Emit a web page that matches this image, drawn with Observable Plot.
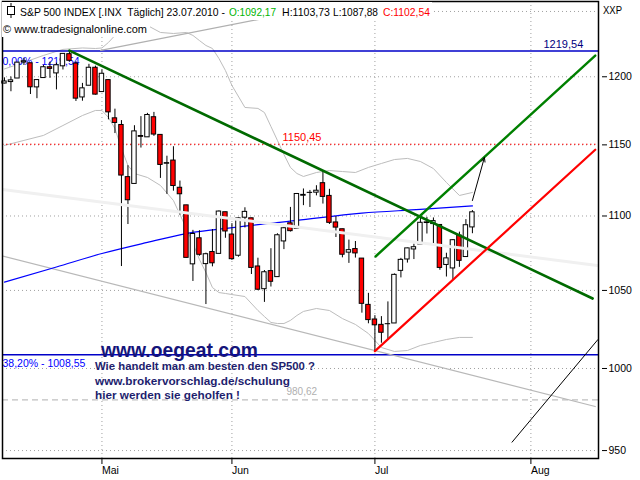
<!DOCTYPE html>
<html><head><meta charset="utf-8">
<script src="https://cdn.jsdelivr.net/npm/d3@7"></script>
<script src="https://cdn.jsdelivr.net/npm/@observablehq/plot@0.6"></script>
<style>body{margin:0;background:#fff}svg{display:block}</style>
</head><body><div id="chart"></div>
<script>
// Daily candles 12.04.2010 - 23.07.2010 (bar index = position)
const opens  = [1194.94,1196.04,1198.69,1210.77,1210.17,1192.06,1199.04,1207.16,1202.52,1207.87,1217.07,1209.92,1184.59,1193.30,1206.77,1188.58,1197.50,1169.24,1164.38,1127.04,1122.27,1156.39,1155.43,1170.04,1157.19,1136.52,1138.78,1119.57,1107.34,1067.26,1084.78,1067.42,1075.51,1074.27,1102.59,1087.30,1073.01,1098.82,1098.43,1065.84,1050.81,1062.75,1058.77,1082.65,1095.00,1091.21,1114.02,1115.98,1116.16,1122.79,1113.90,1095.57,1090.93,1075.10,1077.50,1071.10,1040.56,1031.10,1027.65,1028.09,1028.54,1062.92,1070.50,1077.23,1080.65,1095.61,1094.46,1093.85,1066.85,1064.53,1086.67,1072.14,1092.17];
const highs  = [1199.20,1199.82,1210.65,1213.92,1210.17,1197.87,1208.58,1210.99,1210.27,1217.28,1219.80,1211.38,1195.05,1209.36,1207.99,1205.13,1197.50,1175.95,1167.58,1135.13,1163.85,1170.48,1172.87,1173.57,1157.19,1141.88,1148.66,1124.27,1107.34,1090.16,1089.95,1074.75,1090.75,1103.52,1102.59,1094.77,1098.56,1105.67,1098.43,1071.36,1063.15,1077.74,1087.85,1092.25,1105.91,1115.59,1118.74,1117.72,1121.01,1131.23,1118.50,1099.64,1090.93,1083.56,1082.60,1071.10,1048.08,1033.58,1032.95,1042.50,1060.89,1071.25,1078.16,1080.78,1099.46,1099.08,1098.66,1093.85,1074.70,1083.94,1088.96,1097.50,1103.73];
const lows   = [1194.71,1188.82,1198.69,1208.50,1186.77,1183.68,1199.04,1198.85,1190.19,1205.10,1211.07,1181.62,1181.81,1193.30,1186.32,1188.58,1168.12,1158.15,1065.79,1094.15,1122.27,1147.71,1155.43,1156.14,1126.14,1114.96,1117.20,1100.66,1071.58,1055.90,1072.70,1040.78,1065.59,1074.27,1084.78,1069.89,1072.03,1091.81,1060.50,1049.86,1042.17,1052.25,1058.77,1077.12,1089.03,1091.21,1107.13,1105.87,1113.93,1108.24,1094.18,1085.31,1071.60,1067.89,1071.45,1035.18,1028.33,1010.91,1015.93,1018.35,1028.54,1058.24,1068.10,1070.45,1080.65,1087.68,1080.53,1063.32,1058.83,1056.88,1065.25,1072.14,1087.88];
const closes = [1196.48,1197.30,1210.65,1211.67,1192.13,1197.52,1207.17,1205.94,1208.67,1217.28,1212.05,1183.71,1191.36,1206.78,1186.69,1202.26,1173.60,1165.87,1128.15,1110.88,1159.73,1155.79,1171.67,1157.44,1135.68,1136.94,1120.80,1115.05,1071.59,1087.69,1073.65,1074.03,1067.95,1103.06,1089.41,1070.71,1098.38,1102.83,1064.88,1050.47,1062.00,1055.69,1086.84,1091.60,1089.63,1115.23,1114.61,1116.04,1117.51,1113.20,1095.31,1092.04,1073.69,1076.76,1074.57,1041.24,1030.71,1027.37,1022.58,1028.06,1060.27,1070.25,1077.96,1078.75,1095.34,1095.17,1096.48,1064.88,1071.25,1083.48,1069.59,1093.67,1102.54];

const monthIdx    = [15, 35, 57, 81];
const monthLabels = ["Mai", "Jun", "Jul", "Aug"];
const yTicks = [950, 1000, 1050, 1100, 1150, 1200];
const gridY  = [950, 1000, 1050, 1100, 1150, 1200, 1250];

// envelope band
const bandIdx   = [0,3,6,9,12,14,15,16,17,18,19,20,22,24,26,28,29,30,31,32,33,34,35,37,39,40,41,42,43,44,45,46,48,50,52,54,56,58,60,62,64,66,68,70,72];
const bandUpper = [1205.9,1210.8,1216.1,1220.7,1221.8,1221.4,1221.8,1226.0,1231.4,1238.3,1242.2,1243.0,1239.1,1233.7,1232.9,1233.7,1231.4,1227.5,1223.7,1221.4,1213.8,1204.7,1193.5,1177.2,1176.5,1173.5,1163.3,1153.2,1143.1,1133.9,1129.6,1127.5,1130.3,1131.7,1131.0,1130.3,1133.9,1136.7,1139.5,1140.3,1138.1,1133.1,1123.3,1114.2,1116.3];
const bandLower = [1149.6,1153.2,1156.8,1164.0,1171.3,1175.0,1175.0,1169.9,1161.8,1147.4,1135.3,1129.6,1126.8,1121.2,1110.7,1091.4,1081.3,1070.5,1061.8,1051.9,1048.6,1048.0,1047.3,1046.0,1036.9,1033.0,1029.2,1028.5,1028.5,1030.5,1033.7,1036.3,1038.2,1036.9,1031.7,1027.9,1022.1,1013.2,1010.7,1011.3,1014.5,1016.4,1018.3,1019.6,1019.6];

// moving average (blue)
const maIdx  = [0, 8, 15, 22, 28, 33, 45, 55, 64, 72];
const maVals = [1055.5, 1065.5, 1074.5, 1082, 1088, 1091, 1097, 1102, 1104.5, 1107];

// drawn trend lines: [start, end] as bar index / value
const greenDownIdx = [10, 90.5],   greenDownVals = [1219.8, 1044.7];
const greenUpIdx   = [57.1, 90.9], greenUpVals   = [1072.5, 1216.0];
const redUpIdx     = [57, 90.9],   redUpVals     = [1010.9, 1146.5];
const grayLowIdx   = [-0.6, 90.9], grayLowVals   = [1073.2, 976.5];
const grayHighIdx  = [14.8, 54],   grayHighVals  = [1219.9, 1258.6];
const lightIdx     = [-0.3, 91.2], lightVals     = [1118.4, 1066.5];
const blackIdx     = [78.1, 91.3], blackVals     = [955.0, 1018.2];
const arrowIdx     = [72, 73.85],  arrowVals     = [1110.7, 1141.0];

// horizontal levels
const fibTop = 1219.54, fibLow = 1008.55, redLevel = 1150.45, grayLevel = 980.62;

const candles = opens.map((o, i) => ({i, o, h: highs[i], l: lows[i], c: closes[i]}));
const band = bandIdx.map((i, k) => ({i, up: bandUpper[k], lo: bandLower[k]}));
const ma = maIdx.map((i, k) => ({i, v: maVals[k]}));
const seg = (xs, vs) => xs.map((i, k) => ({i, v: vs[k]}));
const FONT = "'Liberation Sans', Arial, sans-serif";

const chart = Plot.plot({
  width: 640, height: 480,
  marginLeft: 2, marginRight: 42, marginTop: 1, marginBottom: 22,
  style: {fontFamily: FONT, fontSize: "10.5px", background: "white", color: "black"},
  x: {type: "linear", domain: [-0.3, 91.4], label: null},
  y: {type: "log", domain: [945.3, 1257.8], label: null},
  marks: [
    Plot.ruleY(gridY, {stroke: "#a0a0a0", strokeDasharray: "1,3"}),
    Plot.ruleX(monthIdx, {stroke: "#a0a0a0", strokeDasharray: "1,3"}),
    Plot.areaY(band, {x: "i", y1: "lo", y2: "up", fill: "#f5f5f5", ariaLabel: "bandfill"}),
    Plot.line(band, {x: "i", y: "up", stroke: "#bdbdbd", strokeWidth: 1}),
    Plot.line(band, {x: "i", y: "lo", stroke: "#bdbdbd", strokeWidth: 1}),
    Plot.ruleY([grayLevel], {stroke: "#c0c0c0", strokeDasharray: "6,4", strokeWidth: 1.2}),
    Plot.ruleY([redLevel], {stroke: "#ff0000", strokeDasharray: "1.5,2.5", strokeWidth: 1}),
    Plot.ruleY([fibTop], {stroke: "#0000c8", strokeWidth: 1.5}),
    Plot.ruleY([fibLow], {stroke: "#0000c8", strokeWidth: 1.5}),
    Plot.line(seg(grayLowIdx, grayLowVals), {x: "i", y: "v", stroke: "#b8b8b8", strokeWidth: 1.2, clip: true}),
    Plot.line(seg(grayHighIdx, grayHighVals), {x: "i", y: "v", stroke: "#b0b0b0", strokeWidth: 1.2, clip: true}),
    Plot.line(ma, {x: "i", y: "v", stroke: "#0000ff", strokeWidth: 1.2, curve: "monotone-x"}),
    Plot.text([fibTop], {y: d => d, text: d => "0,00% - " + d.toFixed(2).replace(".", ","), frameAnchor: "left", textAnchor: "start", lineAnchor: "bottom", dx: 0, dy: 14, fill: "#0000ff", fontSize: 10.5, ariaLabel: "lblTopL"}),
    Plot.text([fibLow], {y: d => d, text: d => "38,20% - " + d.toFixed(2).replace(".", ","), frameAnchor: "left", textAnchor: "start", lineAnchor: "bottom", dx: 0, dy: 12.3, fill: "#0000ff", fontSize: 10.5, ariaLabel: "lblLowL"}),
    Plot.text([redLevel], {y: d => d, text: d => d.toFixed(2).replace(".", ","), frameAnchor: "left", textAnchor: "start", lineAnchor: "bottom", dx: 280, dy: -3.2, fill: "#ff0000", fontSize: 11, ariaLabel: "lblRed"}),
    Plot.text([fibTop], {y: d => d, text: d => d.toFixed(2).replace(".", ","), frameAnchor: "left", textAnchor: "start", lineAnchor: "bottom", dx: 541, dy: -2.7, fill: "#000080", fontSize: 11, ariaLabel: "lblTopR"}),
    Plot.text([grayLevel], {y: d => d, text: d => d.toFixed(2).replace(".", ","), frameAnchor: "left", textAnchor: "start", lineAnchor: "bottom", dx: 284, dy: -5, fill: "#b0b0b0", fontSize: 10, ariaLabel: "lblGray"}),
    Plot.ruleX(candles, {x: "i", y1: "l", y2: "h", stroke: "black", strokeWidth: 1}),
    Plot.rect(candles, {x1: d => d.i - 0.34, x2: d => d.i + 0.34, y1: "o", y2: "c",
      fill: d => d.c >= d.o ? "white" : "#ff0000", stroke: "black", strokeWidth: 1}),
    Plot.line(seg(lightIdx, lightVals), {x: "i", y: "v", stroke: "#f0f0f0", strokeWidth: 3, clip: true}),
    Plot.line(seg(greenDownIdx, greenDownVals), {x: "i", y: "v", stroke: "#006a00", strokeWidth: 2.6, clip: true}),
    Plot.line(seg(greenUpIdx, greenUpVals), {x: "i", y: "v", stroke: "#008000", strokeWidth: 2.4, clip: true}),
    Plot.line(seg(redUpIdx, redUpVals), {x: "i", y: "v", stroke: "#ff0000", strokeWidth: 2.2, clip: true}),
    Plot.line(seg(blackIdx, blackVals), {x: "i", y: "v", stroke: "black", strokeWidth: 1, clip: true}),
    Plot.arrow([0], {x1: () => arrowIdx[0], y1: () => arrowVals[0], x2: () => arrowIdx[1], y2: () => arrowVals[1],
      stroke: "black", strokeWidth: 1, headLength: 7, headAngle: 45}),
    Plot.frame({stroke: "black", strokeWidth: 1.5}),
    Plot.axisY({ticks: yTicks, anchor: "right", tickSize: 5, dx: 3, tickPadding: 2, tickFormat: d => String(d), fontSize: 10.5, label: null}),
    Plot.axisX({ticks: monthIdx, tickFormat: d => monthLabels[monthIdx.indexOf(d)], tickSize: 6, tickPadding: 2, textAnchor: "start", fontSize: 10.5, label: null})
  ]
});

document.getElementById("chart").appendChild(chart);
const S = d3.select(chart);
function fit(label, len) {
  S.selectAll(`g[aria-label="${label}"] text`).attr("textLength", len).attr("lengthAdjust", "spacingAndGlyphs");
}
fit("lblTopL", 86); fit("lblLowL", 81); fit("lblRed", 37.5); fit("lblTopR", 39); fit("lblGray", 29);

// white backgrounds for the header text (under everything but the grid)
S.insert("rect", 'g[aria-label="bandfill"]').attr("x", 2).attr("y", 2).attr("width", 430).attr("height", 18).attr("fill", "white");
S.insert("rect", 'g[aria-label="bandfill"]').attr("x", 2).attr("y", 20).attr("width", 148).attr("height", 17).attr("fill", "white");

const G = S.append("g").attr("text-anchor", "start");
function addText(s, x, y, opt = {}) {
  const t = G.append("text").attr("x", x).attr("y", y).text(s)
    .attr("text-anchor", "start")
    .attr("fill", opt.fill || "black").attr("font-size", opt.size || 11)
    .attr("font-family", opt.family || FONT).attr("font-weight", opt.weight || "normal");
  if (opt.len) t.attr("textLength", opt.len).attr("lengthAdjust", "spacingAndGlyphs");
  return t;
}
// header icon
G.append("line").attr("x1", 11).attr("x2", 11).attr("y1", 3).attr("y2", 18).attr("stroke", "black");
G.append("rect").attr("x", 7.5).attr("y", 6.5).attr("width", 7).attr("height", 8).attr("fill", "white").attr("stroke", "black");
addText("S&P 500 INDEX [.INX  Täglich] 23.07.2010 -", 20, 15.5, {len: 205, size: 11});
addText("O:1092,17", 229, 15.5, {len: 47, fill: "#00b400", size: 11});
addText("H:1103,73", 282, 15.5, {len: 48, size: 11});
addText("L:1087,88", 333, 15.5, {len: 45, size: 11});
addText("C:1102,54", 383, 15.5, {len: 47, fill: "#ff0000", size: 11});
addText("© www.tradesignalonline.com", 3, 33, {len: 144, size: 11});
addText("XXP", 603, 14, {len: 19, size: 11});
addText("www.oegeat.com", 101, 356.7, {len: 157, size: 20.5, weight: "bold", fill: "#14147a"});
addText("Wie handelt man am besten den SP500 ?", 95, 370, {len: 220, size: 11, weight: "bold", fill: "#1e1e6e"});
addText("www.brokervorschlag.de/schulung", 95, 384.5, {len: 195, size: 11, weight: "bold", fill: "#1e1e6e"});
addText("hier werden sie geholfen !", 95, 398.5, {len: 145, size: 11, weight: "bold", fill: "#1e1e6e"});
</script>
</body></html>
